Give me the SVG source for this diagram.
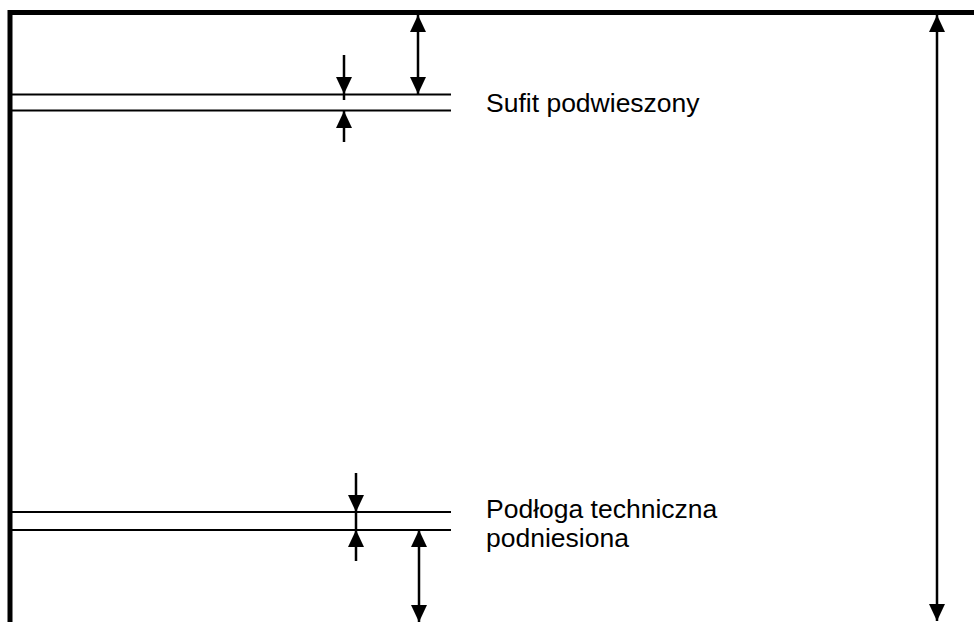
<svg xmlns="http://www.w3.org/2000/svg" width="974" height="622" viewBox="0 0 974 622">
<style>
.frame{fill:none;stroke:#000;stroke-width:5}
.lvl{fill:none;stroke:#000;stroke-width:2}
.dim{fill:none;stroke:#000;stroke-width:2.5}
.lbl{font-family:"Liberation Sans",Arial,sans-serif;font-size:26.5px;fill:#000}
</style>
<defs>
<marker id="ah" markerUnits="userSpaceOnUse" markerWidth="18" markerHeight="18" refX="17" refY="8.5" orient="auto" viewBox="0 0 18 18">
<path d="M0,0.5 L17,8.5 L0,16.5 z" fill="#000"/>
</marker>
</defs>
<rect width="974" height="622" fill="#fff"/>
<g id="frame"><path class="frame" d="M10,622 V12.5 H974"/></g>
<g id="ceiling">
<line class="lvl" x1="12" y1="94.5" x2="451" y2="94.5"/>
<line class="lvl" x1="12" y1="110.5" x2="451" y2="110.5"/>
<text class="lbl" x="486" y="112">Sufit podwieszony</text>
</g>
<g id="floor">
<line class="lvl" x1="12" y1="512" x2="451" y2="512"/>
<line class="lvl" x1="12" y1="530" x2="451" y2="530"/>
<text class="lbl" x="486" y="518">Podłoga techniczna</text>
<text class="lbl" x="486" y="547">podniesiona</text>
</g>
<g id="connectors">
<line class="dim" x1="344" y1="55" x2="344" y2="94" marker-end="url(#ah)"/>
<line class="dim" x1="344" y1="94" x2="344" y2="100"/>
<line class="dim" x1="344" y1="142" x2="344" y2="111" marker-end="url(#ah)"/>
<line class="dim" x1="418" y1="55" x2="418" y2="15" marker-end="url(#ah)"/>
<line class="dim" x1="418" y1="55" x2="418" y2="94" marker-end="url(#ah)"/>
<line class="dim" x1="356" y1="473" x2="356" y2="512" marker-end="url(#ah)"/>
<line class="dim" x1="356" y1="512" x2="356" y2="530"/>
<line class="dim" x1="356" y1="561" x2="356" y2="530" marker-end="url(#ah)"/>
<line class="dim" x1="419" y1="576" x2="419" y2="530" marker-end="url(#ah)"/>
<line class="dim" x1="419" y1="576" x2="419" y2="622" marker-end="url(#ah)"/>
<line class="dim" x1="937" y1="318" x2="937" y2="15" marker-end="url(#ah)"/>
<line class="dim" x1="937" y1="318" x2="937" y2="621" marker-end="url(#ah)"/>
</g>
</svg>
